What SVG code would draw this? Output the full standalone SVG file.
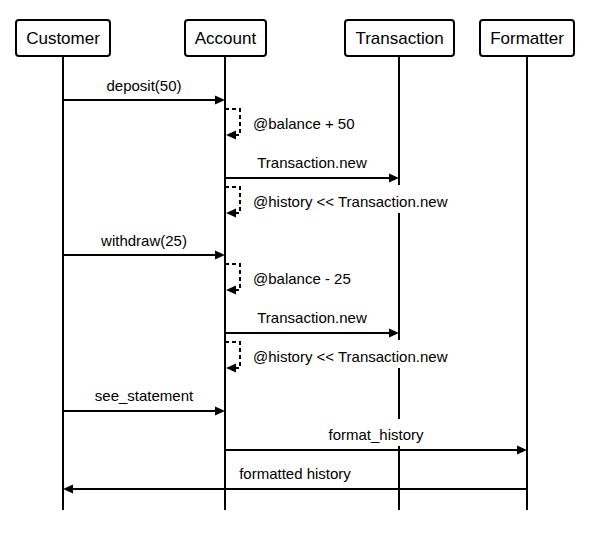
<svg xmlns="http://www.w3.org/2000/svg" width="600" height="543" viewBox="0 0 600 543">
<defs>
<style>
.box{fill:#fff;stroke:#000;stroke-width:2}
.life{stroke:#000;stroke-width:2;fill:none}
.msg{stroke:#000;stroke-width:2;fill:none}
.self{stroke:#000;stroke-width:2;fill:none;stroke-dasharray:4 3}
.head{fill:#000}
.nt{font-family:"Liberation Sans",Arial,sans-serif;font-size:17px;fill:#000;text-anchor:middle}
.lt{font-family:"Liberation Sans",Arial,sans-serif;font-size:15px;fill:#000}
.c{text-anchor:middle}
.bg{fill:#fff}
</style>
</defs>
<rect width="600" height="543" fill="#fff"/>
<g id="lifelines">
<line class="life" x1="63" y1="56" x2="63" y2="510"/>
<line class="life" x1="225" y1="56" x2="225" y2="510"/>
<line class="life" x1="399" y1="56" x2="399" y2="510"/>
<line class="life" x1="527" y1="56" x2="527" y2="510"/>
</g>
<g id="customer"><rect class="box" x="16" y="20" width="94" height="36" rx="3"/><text class="nt" x="63" y="44">Customer</text></g>
<g id="account"><rect class="box" x="185" y="20" width="81" height="36" rx="3"/><text class="nt" x="225.5" y="44">Account</text></g>
<g id="transaction"><rect class="box" x="345" y="20" width="109" height="36" rx="3"/><text class="nt" x="399.5" y="44">Transaction</text></g>
<g id="formatter"><rect class="box" x="480" y="20" width="94" height="36" rx="3"/><text class="nt" x="527" y="44">Formatter</text></g>
<g id="connectors">
<!-- deposit -->
<text class="lt c" x="144" y="91">deposit(50)</text>
<line class="msg" x1="63" y1="100" x2="216" y2="100"/>
<polygon class="head" points="225,100 215,95.5 215,104.5"/>
<path class="self" d="M225,109 H240 V135 H234"/>
<polygon class="head" points="226,135 236,130.5 236,139.5"/>
<text class="lt" x="253" y="129">@balance + 50</text>
<!-- Transaction.new 1 -->
<text class="lt c" x="312" y="168">Transaction.new</text>
<line class="msg" x1="225" y1="178" x2="390" y2="178"/>
<polygon class="head" points="399,178 389,173.5 389,182.5"/>
<path class="self" d="M225,187 H240 V213 H234"/>
<polygon class="head" points="226,213 236,208.5 236,217.5"/>
<rect class="bg" x="250" y="185" width="202" height="28"/>
<text class="lt" x="253" y="207">@history &lt;&lt; Transaction.new</text>
<!-- withdraw -->
<text class="lt c" x="144" y="246">withdraw(25)</text>
<line class="msg" x1="63" y1="255" x2="216" y2="255"/>
<polygon class="head" points="225,255 215,250.5 215,259.5"/>
<path class="self" d="M225,264 H240 V290 H234"/>
<polygon class="head" points="226,290 236,285.5 236,294.5"/>
<text class="lt" x="253" y="284">@balance - 25</text>
<!-- Transaction.new 2 -->
<text class="lt c" x="312" y="323">Transaction.new</text>
<line class="msg" x1="225" y1="333" x2="390" y2="333"/>
<polygon class="head" points="399,333 389,328.5 389,337.5"/>
<path class="self" d="M225,342 H240 V368 H234"/>
<polygon class="head" points="226,368 236,363.5 236,372.5"/>
<rect class="bg" x="250" y="340" width="202" height="28"/>
<text class="lt" x="253" y="362">@history &lt;&lt; Transaction.new</text>
<!-- see_statement -->
<text class="lt c" x="144" y="401">see_statement</text>
<line class="msg" x1="63" y1="411" x2="216" y2="411"/>
<polygon class="head" points="225,411 215,406.5 215,415.5"/>
<!-- format_history -->
<rect class="bg" x="325" y="419" width="102" height="27"/>
<text class="lt c" x="376" y="440">format_history</text>
<line class="msg" x1="225" y1="450" x2="518" y2="450"/>
<polygon class="head" points="527,450 517,445.5 517,454.5"/>
<!-- formatted history -->
<text class="lt c" x="295" y="479">formatted history</text>
<line class="msg" x1="72" y1="489" x2="527" y2="489"/>
<polygon class="head" points="63,489 73,484.5 73,493.5"/>
</g>
</svg>
